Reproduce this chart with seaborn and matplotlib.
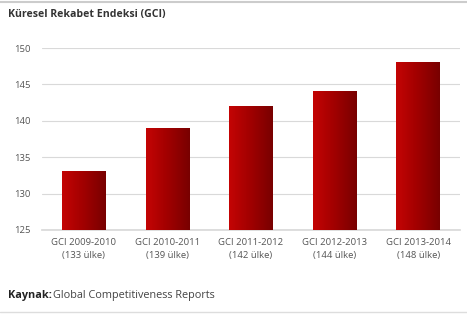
import matplotlib
matplotlib.use("Agg")
import matplotlib.pyplot as plt
import seaborn as sns
import numpy as np
import pandas as pd

# Küresel Rekabet Endeksi - number of countries per report
periods = ['GCI 2009-2010', 'GCI 2010-2011', 'GCI 2011-2012', 'GCI 2012-2013', 'GCI 2013-2014']
countries = [133, 139, 142, 144, 148]
tick_labels = [f'{p}\n({c} ülke)' for p, c in zip(periods, countries)]

df = pd.DataFrame({'period': periods, 'countries': countries})

sns.set_theme(style='white')
plt.rcParams['font.family'] = ['Open Sans', 'DejaVu Sans']

fig = plt.figure(figsize=(4.67, 3.18), dpi=100)
ax = fig.add_axes([0.09, 0.277, 0.895, 0.572])

y_min, y_max = 125, 150
sns.barplot(data=df, x='period', y='countries', color='#a00000', width=0.52, ax=ax, zorder=3)

# red gradient fill inside each bar (only the visible part above y_min)
grad = np.linspace(0, 1, 256).reshape(1, -1)
cmap = matplotlib.colors.LinearSegmentedColormap.from_list('redgrad', ['#c40404', '#a00000', '#780000'])
for p in ax.patches:
    x0, w, top = p.get_x(), p.get_width(), p.get_y() + p.get_height()
    im = ax.imshow(grad, extent=[x0, x0 + w, y_min, top], aspect='auto', cmap=cmap, zorder=4)
    p.set_edgecolor('none')

ax.set_xlim(-0.5, 4.5)
ax.set_ylim(y_min, y_max)
ax.set_yticks([125, 130, 135, 140, 145, 150])
ax.yaxis.grid(True, color='#d9d9d9', linewidth=0.8, zorder=0)
ax.set_xticks(range(len(periods)))
ax.set_xticklabels(tick_labels, fontsize=6.8, color='#555555', linespacing=1.5)
ax.tick_params(axis='y', labelsize=6.8, colors='#555555', length=0, pad=8)
ax.tick_params(axis='x', length=0, pad=6)
ax.set_xlabel('')
ax.set_ylabel('')
for s in ['top', 'right', 'left']:
    ax.spines[s].set_visible(False)
ax.spines['bottom'].set_color('#d9d9d9')

fig.text(0.017, 0.955, 'Küresel Rekabet Endeksi (GCI)', fontsize=7.6, fontweight='bold', color='#333333', va='center')
fig.text(0.017, 0.07, 'Kaynak:', fontsize=7.8, fontweight='bold', color='#222222', va='center')
fig.text(0.113, 0.07, 'Global Competitiveness Reports', fontsize=7.8, color='#444444', va='center')

fig.add_artist(plt.Line2D([0, 1], [0.995, 0.995], color='#cccccc', linewidth=1.5))
fig.add_artist(plt.Line2D([0, 1], [0.018, 0.018], color='#dddddd', linewidth=1.0))

fig.savefig('out.png', dpi=100)
